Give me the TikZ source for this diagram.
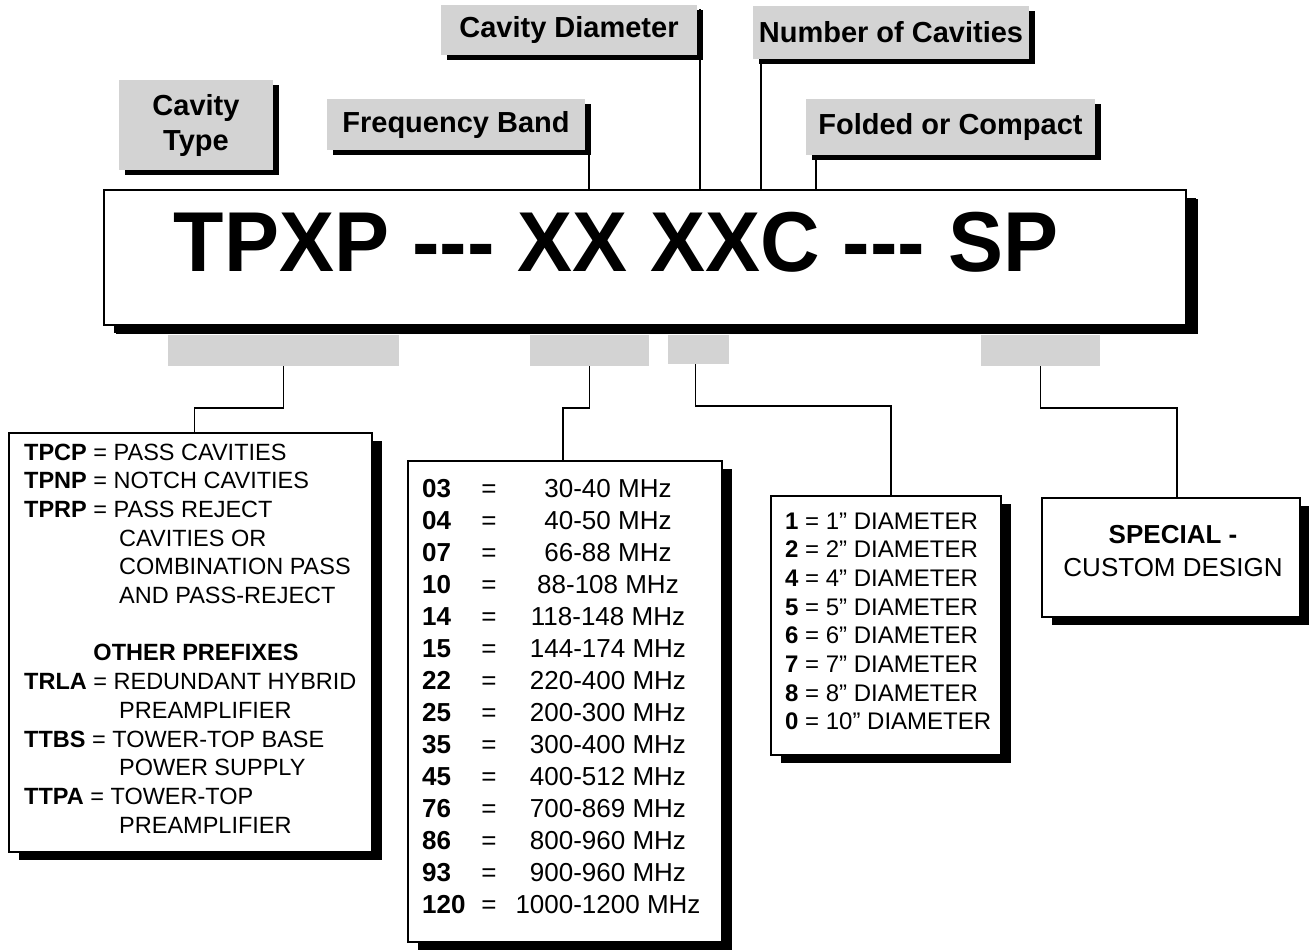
\documentclass[tikz,border=0pt]{standalone}
\usepackage{fontspec}
\setmainfont{Liberation Sans}
\usepackage{tikz}
\usetikzlibrary{shadows}

\definecolor{tabgray}{RGB}{211,211,211}
\newcommand{\fsz}[1]{\fontsize{#1}{#1}\selectfont}

\tikzset{
  tag/.style={fill=tabgray, inner sep=0pt, font=\bfseries\fontsize{29}{35}\selectfont, align=center,
    drop shadow={shadow xshift=6pt, shadow yshift=-5pt, opacity=1, fill=black}},
  panel/.style={draw, line width=1.6pt, fill=white, inner sep=0pt,
    drop shadow={shadow xshift=10pt, shadow yshift=-8pt, opacity=1, fill=black}},
  codebar/.style={fill=tabgray, inner sep=0pt},
  wire/.style={line width=1.6pt},
  rowtxt/.style={inner sep=0pt, anchor=base west}
}

\begin{document}
\begin{tikzpicture}[x=1pt, y=-1pt]
\useasboundingbox (0,0) rectangle (1309,951);

% Field labels
\node[tag, minimum width=154, minimum height=90] (typetag) at (196,125) {Cavity\\Type};
\node[tag, minimum width=258, minimum height=51] (freqtag) at (456,124.5) {Frequency Band};
\node[tag, minimum width=256, minimum height=50] (diamtag) at (569,30) {Cavity Diameter};
\node[tag, minimum width=276, minimum height=53] (numtag) at (891,32.5) {Number of Cavities};
\node[tag, minimum width=289, minimum height=56] (foldtag) at (950.5,127) {Folded or Compact};

% Model number
\node[panel, minimum width=1082, minimum height=135,
  drop shadow={shadow xshift=12pt, shadow yshift=-9pt, opacity=1, fill=black}] (mainbox) at (645,257.5) {};
\node[inner sep=0pt, anchor=base, font=\bfseries\fsz{85}] (code) at (616,271)
  {\scalebox{0.97}[1]{TPXP -\kern0pt-\kern0pt- XX XXC -\kern0pt-\kern0pt- SP}};

% Labels to model number
\draw[wire] ([xshift=4pt]freqtag.south east) -- ([xshift=4pt]freqtag.south east |- mainbox.north);
\draw[wire] ([xshift=3pt,yshift=-4pt]diamtag.north east) -- ([xshift=3pt]diamtag.north east |- mainbox.north);
\draw[wire] ([xshift=8pt]numtag.south west) -- ([xshift=8pt]numtag.south west |- mainbox.north);
\draw[wire] ([xshift=10pt]foldtag.south west) -- ([xshift=10pt]foldtag.south west |- mainbox.north);

% Bars under the code
\node[codebar, minimum width=231, minimum height=31] (typebar) at (283.5,350.5) {};
\node[codebar, minimum width=119, minimum height=31] (bandbar) at (589.5,350.5) {};
\node[codebar, minimum width=61, minimum height=29] (diambar) at (698.5,349.5) {};
\node[codebar, minimum width=119, minimum height=31] (specbar) at (1040.5,350.5) {};

% Legend boxes
\node[panel, minimum width=363, minimum height=419] (typebox) at (190.5,642.5) {};
\node[panel, minimum width=314, minimum height=481] (bandbox) at (565,701.5) {};
\node[panel, minimum width=230, minimum height=259] (diambox) at (886,625.5) {};
\node[panel, minimum width=258, minimum height=119] (specbox) at (1171,557.5) {};

% Bars to legend boxes
\draw[wire] (typebar.south) -- ++(0,42) -| ([xshift=4pt]typebox.north);
\draw[wire] (bandbar.south) -- ++(0,42) -| ([xshift=-2pt]bandbox.north);
\draw[wire] ([xshift=-3pt]diambar.south) -- ++(0,42) -| ([xshift=5pt]diambox.north);
\draw[wire] (specbar.south) -- ++(0,42) -| ([xshift=6pt]specbox.north);

% Cavity type
\foreach \r/\x/\txt in {0/24/{\textbf{TPCP} = PASS CAVITIES}, 1/24/{\textbf{TPNP} = NOTCH CAVITIES},
    2/24/{\textbf{TPRP} = PASS REJECT}, 3/119/{CAVITIES OR}, 4/119/{COMBINATION PASS},
    5/119/{AND PASS-REJECT}, 8/24/{\textbf{TRLA} = REDUNDANT HYBRID}, 9/119/{PREAMPLIFIER},
    10/24/{\textbf{TTBS} = TOWER-TOP BASE}, 11/119/{POWER SUPPLY},
    12/24/{\textbf{TTPA} = TOWER-TOP}, 13/119/{PREAMPLIFIER}}
  \node[rowtxt, font=\fsz{23.5}] (prefix\r) at (\x, 460+28.7*\r) {\txt};
\node[inner sep=0pt, anchor=base, font=\bfseries\fsz{23.5}] (otherhead) at (196, 460+28.7*7) {OTHER PREFIXES};

% Frequency band
\foreach \code/\band [count=\i from 0] in {03/30-40, 04/40-50, 07/66-88, 10/88-108, 14/118-148,
    15/144-174, 22/220-400, 25/200-300, 35/300-400, 45/400-512, 76/700-869, 86/800-960,
    93/900-960, 120/1000-1200}
{
  \node[rowtxt, font=\bfseries\fsz{26}] (bandcode\i) at (422, 497+32*\i) {\code};
  \node[inner sep=0pt, anchor=base, font=\fsz{26}] (bandeq\i) at (489, 497+32*\i) {=};
  \node[inner sep=0pt, anchor=base, font=\fsz{26}] (bandval\i) at (608, 497+32*\i) {\band\ MHz};
}

% Cavity diameter
\foreach \d/\v [count=\i from 0] in {1/1, 2/2, 4/4, 5/5, 6/6, 7/7, 8/8, 0/10}
  \node[rowtxt, font=\fsz{24}] (diam\i) at (785, 529+28.7*\i) {\textbf{\d} = \v” DIAMETER};

% Special
\node[inner sep=0pt, anchor=base, font=\bfseries\fsz{26}] (spechead) at (1173,543) {SPECIAL -};
\node[inner sep=0pt, anchor=base, font=\fsz{26}] (spectext) at (1173,576) {CUSTOM DESIGN};
\end{tikzpicture}
\end{document}
